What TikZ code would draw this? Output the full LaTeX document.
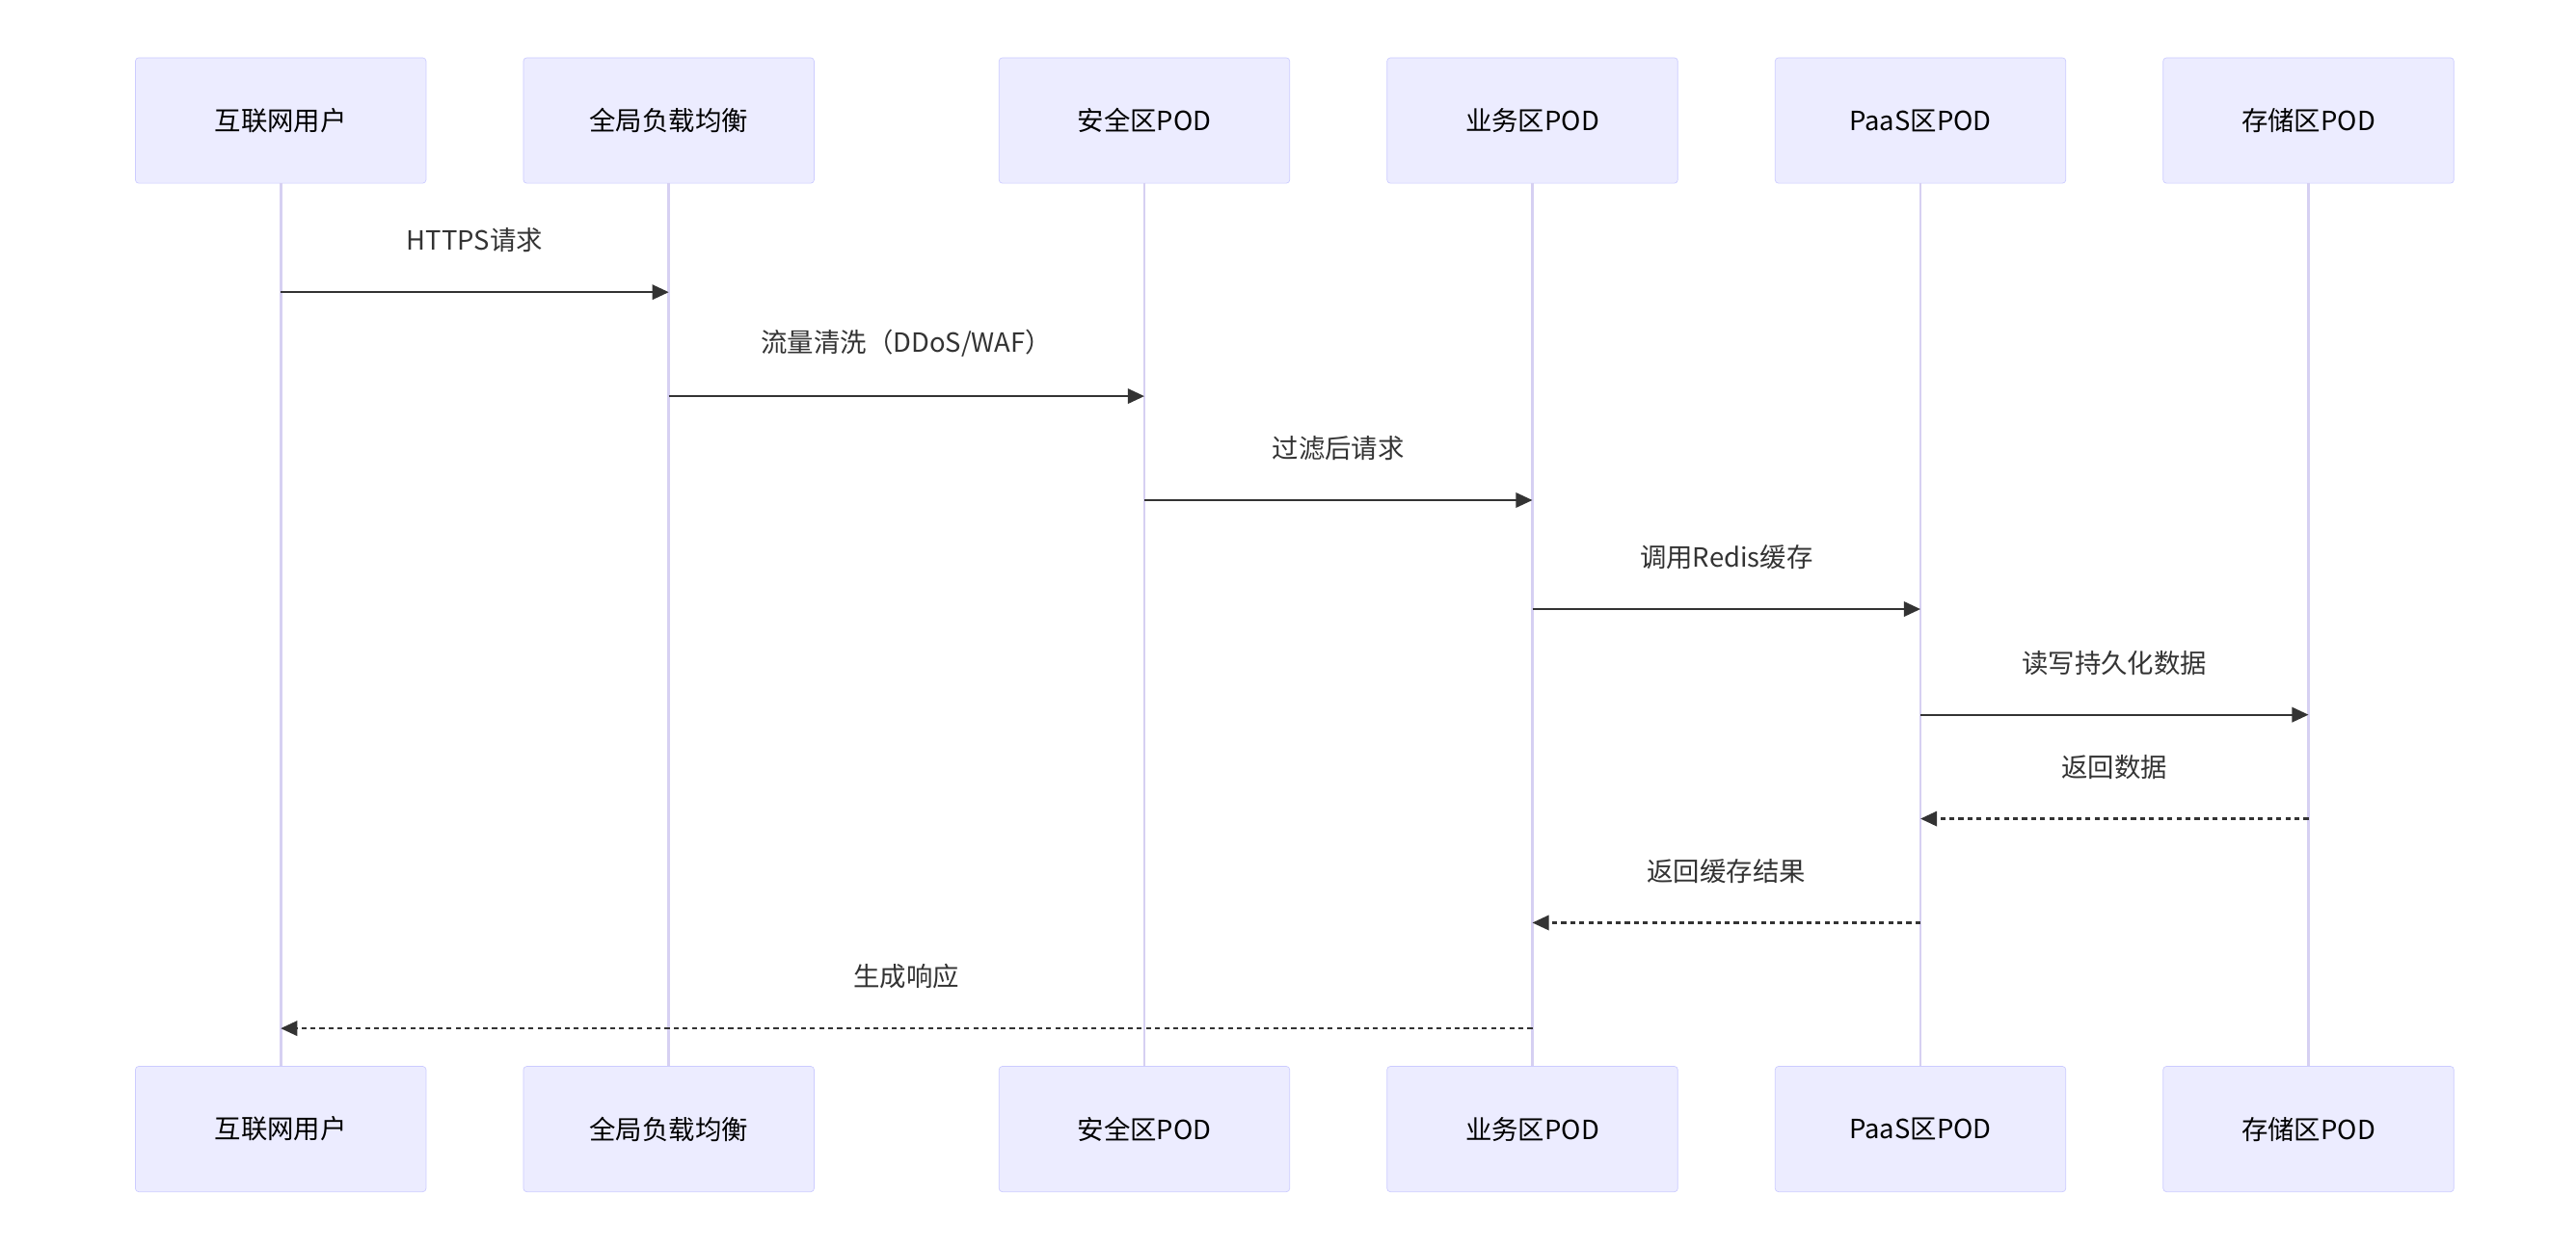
\documentclass[tikz,border=0pt]{standalone}
\usepackage{fontspec}
\setmainfont{Noto Sans CJK SC}
\usetikzlibrary{arrows.meta}
\definecolor{boxfill}{HTML}{ECECFF}
\definecolor{boxline}{HTML}{CCCCFF}
\definecolor{life}{HTML}{D6D0F2}
\definecolor{msg}{HTML}{333333}
\begin{document}
\begin{tikzpicture}[x=1pt,y=-1pt,
  actor/.style={draw=boxline,fill=boxfill,rounded corners=2pt,minimum width=176pt,minimum height=76pt,inner sep=0pt,font=\fontsize{16}{18}\selectfont,text=black},
  lifeline/.style={draw=life,line width=1.6pt},
  call/.style={draw=msg,line width=1.3pt,-{Triangle[length=10pt,width=9pt]}},
  reply/.style={call,dash pattern=on 3pt off 2.5pt},
  lab/.style={font=\fontsize{16}{18}\selectfont,text=msg}]
\useasboundingbox (0,0) rectangle (1560,756);
\foreach \n/\x/\t in {a/170/互联网用户,b/405/全局负载均衡,c/693/安全区POD,d/928/业务区POD,e/1163/PaaS区POD,f/1398/存储区POD}{
  \node[actor] (\n t) at (\x,73) {\t};
  \node[actor] (\n b) at (\x,684) {\t};
  \draw[lifeline] (\n t.south) -- (\n b.north);
}
\coordinate (y1) at (0,177);\coordinate (y2) at (0,240);\coordinate (y3) at (0,303);\coordinate (y4) at (0,369);
\coordinate (y5) at (0,433);\coordinate (y6) at (0,496);\coordinate (y7) at (0,559);\coordinate (y8) at (0,623);
\draw[call] (at |- y1) -- (bt |- y1) node[lab,midway,above=20pt] {HTTPS请求};
\draw[call] (bt |- y2) -- (ct |- y2) node[lab,midway,above=20pt] {流量清洗（DDoS/WAF）};
\draw[call] (ct |- y3) -- (dt |- y3) node[lab,midway,above=20pt] {过滤后请求};
\draw[call] (dt |- y4) -- (et |- y4) node[lab,midway,above=20pt] {调用Redis缓存};
\draw[call] (et |- y5) -- (ft |- y5) node[lab,midway,above=20pt] {读写持久化数据};
\draw[reply] (ft |- y6) -- (et |- y6) node[lab,midway,above=20pt] {返回数据};
\draw[reply] (et |- y7) -- (dt |- y7) node[lab,midway,above=20pt] {返回缓存结果};
\draw[reply] (dt |- y8) -- (at |- y8) node[lab,midway,above=20pt] {生成响应};
\end{tikzpicture}
\end{document}
